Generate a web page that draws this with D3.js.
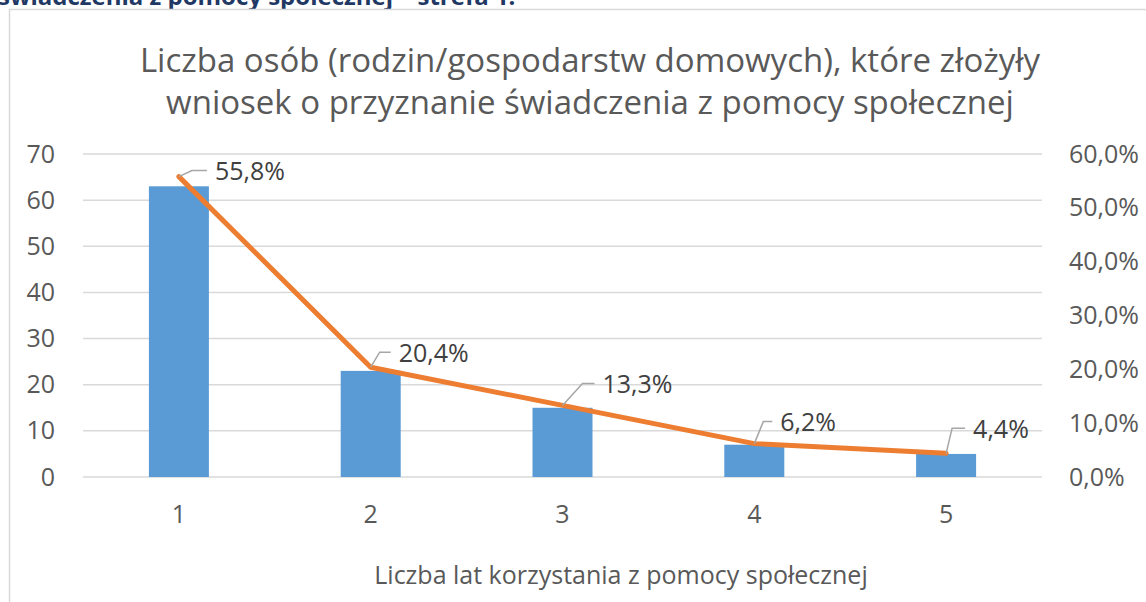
<!DOCTYPE html>
<meta charset="utf-8">
<script src="https://d3js.org/d3.v7.min.js"></script>
<style>
    body { margin: 0; background: #fff; }
    text { font-family: "Open Sans", sans-serif; }
</style>
<body>
<script>
    // data
    var years = ["1", "2", "3", "4", "5"];
    var counts = [63, 23, 15, 7, 5];
    var shares = [55.8, 20.4, 13.3, 6.2, 4.4];
    var leftTicks = [0, 10, 20, 30, 40, 50, 60, 70];
    var rightTicks = [0, 10, 20, 30, 40, 50, 60];
    var titleLines = ["Liczba osób (rodzin/gospodarstw domowych), które złożyły",
        "wniosek o przyznanie świadczenia z pomocy społecznej"];
    var xTitle = "Liczba lat korzystania z pomocy społecznej";
    var header = "świadczenia z pomocy społecznej – strefa 1.";

    // label leader offsets (layout only)
    var nudge = [[13, -6, 15], [9, -15, 11], [20, -22, 12], [9, -22, 9], [6, -25, 13]];

    var W = 1146, H = 602;
    var margin = { top: 154, right: 104, bottom: 125, left: 83 },
        width = W - margin.left - margin.right,
        height = H - margin.top - margin.bottom;

    var svg = d3.select("body").append("svg")
        .attr("width", W)
        .attr("height", H);

    svg.append("text")
        .attr("x", -2)
        .attr("y", 5)
        .style("font-size", "24px")
        .style("font-weight", "bold")
        .style("fill", "#1F3864")
        .text(header);

    svg.append("rect")
        .attr("x", 9.5)
        .attr("y", 9.5)
        .attr("width", 1200)
        .attr("height", 700)
        .style("fill", "#fff")
        .style("stroke", "#D9D9D9")
        .style("stroke-width", 1.5);

    var g = svg.append("g")
        .attr("transform", "translate(" + margin.left + "," + margin.top + ")");

    var x = d3.scaleBand().domain(years).range([0, width]);
    var y = d3.scaleLinear().domain([0, 70]).range([height, 0]);
    var y2 = d3.scaleLinear().domain([0, 60]).range([height, 0]);

    // gridlines
    g.selectAll(".grid")
        .data(leftTicks)
        .enter().append("line")
        .attr("x1", 0)
        .attr("x2", width)
        .attr("y1", function (d) { return y(d); })
        .attr("y2", function (d) { return y(d); })
        .style("stroke", "#D9D9D9")
        .style("stroke-width", 1.5);

    // axes
    var left = g.append("g")
        .call(d3.axisLeft(y).tickValues(leftTicks).tickSize(0).tickPadding(28));
    var right = g.append("g")
        .attr("transform", "translate(" + width + ",0)")
        .call(d3.axisRight(y2).tickValues(rightTicks).tickSize(0).tickPadding(27)
            .tickFormat(function (d) { return d3.format(".1f")(d).replace(".", ",") + "%"; }));
    var bottom = g.append("g")
        .attr("transform", "translate(0," + height + ")")
        .call(d3.axisBottom(x).tickSize(0).tickPadding(28));
    [left, right, bottom].forEach(function (a) {
        a.select(".domain").remove();
        a.selectAll("text")
            .style("font-family", "'Open Sans', sans-serif")
            .style("font-size", "25px")
            .style("fill", "#595959");
    });

    // bars
    var bw = 60;
    g.selectAll(".bar")
        .data(counts)
        .enter().append("rect")
        .attr("x", function (d, i) { return x(years[i]) + x.bandwidth() / 2 - bw / 2; })
        .attr("y", function (d) { return y(d); })
        .attr("width", bw)
        .attr("height", function (d) { return height - y(d); })
        .style("fill", "#5B9BD5");

    // line
    var cx = function (i) { return x(years[i]) + x.bandwidth() / 2; };
    g.append("path")
        .datum(shares)
        .attr("d", d3.line()
            .x(function (d, i) { return cx(i); })
            .y(function (d) { return y2(d); }))
        .style("fill", "none")
        .style("stroke", "#ED7D31")
        .style("stroke-width", 5)
        .style("stroke-linecap", "round")
        .style("stroke-linejoin", "round");

    // labels with leader lines
    shares.forEach(function (d, i) {
        var px = cx(i), py = y2(d), n = nudge[i];
        g.append("polyline")
            .attr("points", [[px, py], [px + n[0], py + n[1]], [px + n[0] + n[2], py + n[1]]].join(" "))
            .style("fill", "none")
            .style("stroke", "#A6A6A6")
            .style("stroke-width", 1.5);
        g.append("text")
            .attr("x", px + n[0] + n[2] + 8)
            .attr("y", py + n[1])
            .attr("dy", "0.38em")
            .style("font-size", "25px")
            .style("fill", "#404040")
            .text(d3.format(".1f")(d).replace(".", ",") + "%");
    });

    // titles
    svg.selectAll(".title")
        .data(titleLines)
        .enter().append("text")
        .attr("x", 590)
        .attr("y", function (d, i) { return 72 + i * 42; })
        .attr("text-anchor", "middle")
        .style("font-size", "33px")
        .style("fill", "#595959")
        .text(function (d) { return d; });

    svg.append("text")
        .attr("x", 621)
        .attr("y", 584)
        .attr("text-anchor", "middle")
        .style("font-size", "25px")
        .style("fill", "#595959")
        .text(xTitle);
</script>
</body>
